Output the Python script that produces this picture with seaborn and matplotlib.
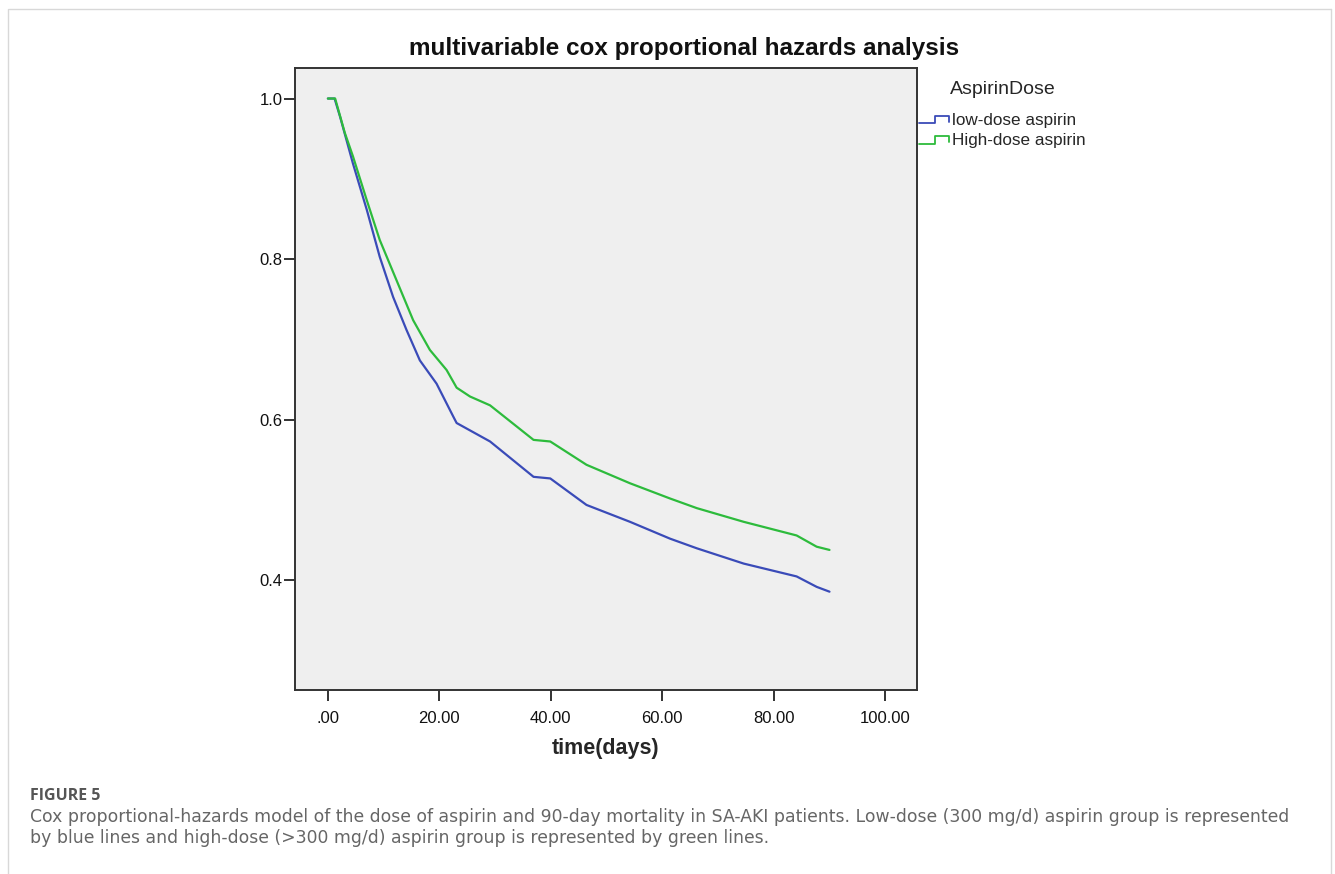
import matplotlib
matplotlib.use("Agg")
import matplotlib.pyplot as plt
from matplotlib.lines import Line2D
from matplotlib.legend_handler import HandlerBase
import seaborn as sns
import pandas as pd

# Datos (dias vs supervivencia acumulada)
dias_baja = [0, 1.2, 2.2, 4.5, 7.0, 9.3, 11.7, 14.1, 16.5, 19.5, 22.5, 23.1, 29.1,
             36.9, 39.9, 46.4, 54.2, 61.4, 66.2, 74.6, 84.1, 87.7, 90.0]
superv_baja = [1.0, 1.0, 0.977, 0.919, 0.861, 0.803, 0.753, 0.712, 0.674, 0.645, 0.604,
               0.596, 0.573, 0.529, 0.527, 0.494, 0.473, 0.452, 0.440, 0.421, 0.405,
               0.392, 0.386]

dias_alta = [0, 1.3, 3.05, 4.5, 6.95, 9.3, 12.3, 15.3, 18.3, 21.3, 23.1, 25.5, 29.1,
             36.9, 39.9, 46.4, 54.2, 61.4, 66.2, 74.6, 84.1, 87.7, 90.0]
superv_alta = [1.0, 1.0, 0.957, 0.928, 0.874, 0.824, 0.774, 0.724, 0.687, 0.662, 0.640,
               0.629, 0.618, 0.575, 0.573, 0.544, 0.521, 0.502, 0.490, 0.473, 0.456,
               0.442, 0.438]

grupos = ["low-dose aspirin", "High-dose aspirin"]
x_ticks = [0, 20, 40, 60, 80, 100]
x_tick_labels = [".00", "20.00", "40.00", "60.00", "80.00", "100.00"]
y_ticks = [0.4, 0.6, 0.8, 1.0]
y_tick_labels = ["0.4", "0.6", "0.8", "1.0"]

COLORES = {grupos[0]: "#3a4bb8", grupos[1]: "#2dbb3c"}

df = pd.concat([
    pd.DataFrame({"time": dias_baja, "surv": superv_baja, "AspirinDose": grupos[0]}),
    pd.DataFrame({"time": dias_alta, "surv": superv_alta, "AspirinDose": grupos[1]}),
])


# manija de leyenda en forma de escalon (estilo SPSS)
class HandlerEscalon(HandlerBase):
    def create_artists(self, legend, orig_handle, xdescent, ydescent,
                       width, height, fontsize, trans):
        w, h = width, height
        xs = [-xdescent, -xdescent + 0.5 * w, -xdescent + 0.5 * w, -xdescent + 0.95 * w, -xdescent + 0.95 * w]
        ys = [-ydescent + 0.15 * h, -ydescent + 0.15 * h, -ydescent + 0.75 * h, -ydescent + 0.75 * h, -ydescent + 0.3 * h]
        linea = Line2D(xs, ys, color=orig_handle.get_color(), lw=1.3)
        linea.set_transform(trans)
        return [linea]


sns.set_theme(style="white")
plt.rcParams["font.family"] = ["Liberation Sans", "DejaVu Sans"]

W, H = 1335, 874
fig = plt.figure(figsize=(W / 100, H / 100), dpi=100)
ax = fig.add_axes([295 / W, 1 - 690 / H, (917 - 295) / W, (690 - 68) / H])
ax.set_facecolor("#efefef")

sns.lineplot(data=df, x="time", y="surv", hue="AspirinDose", palette=COLORES,
             estimator=None, sort=False, linewidth=1.6, legend=False, ax=ax)

ax.set_xlim(-5.9, 105.7)
ax.set_ylim(0.2636, 1.038)
ax.set_xticks(x_ticks)
ax.set_xticklabels(x_tick_labels)
ax.set_yticks(y_ticks)
ax.set_yticklabels(y_tick_labels)
ax.tick_params(axis="both", direction="out", length=8, width=1.3, color="#222222",
               labelsize=12, labelcolor="#111111", bottom=True, left=True)
ax.tick_params(axis="y", pad=1)
ax.tick_params(axis="x", pad=7)
for s in ax.spines.values():
    s.set_visible(True)
    s.set_color("#333333")
    s.set_linewidth(1.4)

ax.set_xlabel("time(days)", fontsize=15.5, fontweight="bold", labelpad=9)
ax.set_ylabel("")

fig.text(684 / W, 1 - 48 / H, "multivariable cox proportional hazards analysis",
         ha="center", va="center", fontsize=17.5, fontweight="bold", color="#111111")

# leyenda
handles = [Line2D([], [], color=COLORES[g]) for g in grupos]
leg = fig.legend(handles, grupos, title="AspirinDose", loc="upper left",
                 bbox_to_anchor=(919 / W, 1 - 81 / H), frameon=False,
                 fontsize=12.3, title_fontsize=14, handlelength=1.85, handletextpad=0.1,
                 labelspacing=0.3, borderpad=0, borderaxespad=0,
                 handler_map={Line2D: HandlerEscalon()})
leg._legend_box.sep = 11

# marco exterior de la figura
borde = "#d8d8d8"
fig.add_artist(Line2D([9 / W, 1331 / W], [1 - 9 / H, 1 - 9 / H], color=borde, lw=1))
fig.add_artist(Line2D([8 / W, 8 / W], [0, 1 - 9 / H], color=borde, lw=1))
fig.add_artist(Line2D([1331 / W, 1331 / W], [0, 1 - 9 / H], color=borde, lw=1))

# pie de figura
fig.text(30 / W, 1 - 796 / H, "FIGURE 5", ha="left", va="center", fontsize=11.5,
         fontweight="bold", color="#555555", family=["Open Sans", "DejaVu Sans"])
fig.text(30 / W, 1 - 817 / H,
         "Cox proportional-hazards model of the dose of aspirin and 90-day mortality in SA-AKI patients. "
         "Low-dose (300 mg/d) aspirin group is represented",
         ha="left", va="center", fontsize=12.4, color="#666666", family=["DejaVu Sans"])
fig.text(30 / W, 1 - 838 / H,
         "by blue lines and high-dose (>300 mg/d) aspirin group is represented by green lines.",
         ha="left", va="center", fontsize=12.4, color="#666666", family=["DejaVu Sans"])

fig.savefig("out.png", dpi=100, facecolor="white")
